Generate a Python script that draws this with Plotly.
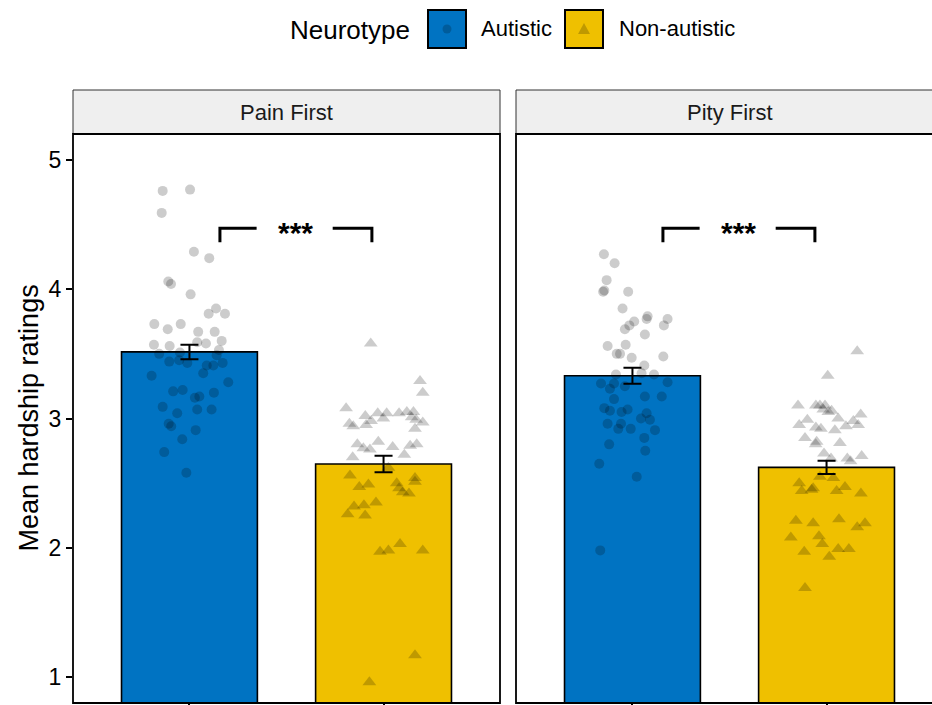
import plotly.graph_objects as go

# ---------------- data ----------------
panels = ["Pain First", "Pity First"]
groups = ["Autistic", "Non-autistic"]
bar_colors = ["#0073C2", "#EFC000"]

means = {"Pain First": [3.515, 2.648], "Pity First": [3.331, 2.622]}
ses = {"Pain First": [0.056, 0.063], "Pity First": [0.062, 0.052]}

pain_aut_y = [4.76, 4.77, 4.59, 4.29, 4.24, 4.06, 4.04, 3.96, 3.85, 3.81, 3.81, 3.73, 3.69, 3.73, 3.67,
              3.67, 3.57, 3.56, 3.58, 3.60, 3.59, 3.50, 3.51, 3.53, 3.44, 3.45, 3.43, 3.41, 3.41, 3.43,
              3.49, 3.33, 3.35, 3.28, 3.21, 3.22, 3.16, 3.17, 3.20, 3.09, 3.04, 3.07, 3.07, 2.96, 2.94,
              2.91, 2.84, 2.74, 2.58]
pain_aut_jit = [-0.138, 0.003, -0.143, 0.023, 0.102, -0.109, -0.095, 0.006, 0.137, 0.099, 0.183, -0.181,
                -0.112, -0.045, 0.045, 0.130, -0.183, -0.102, 0.085, 0.166, 0.040, -0.156, -0.049, 0.152,
                -0.104, -0.053, -0.011, 0.089, 0.123, 0.171, 0.140, -0.195, 0.071, 0.200, -0.084, -0.035,
                0.028, 0.051, 0.126, -0.138, -0.063, 0.040, 0.114, -0.107, -0.094, 0.032, -0.037, -0.130,
                -0.016]

pain_non_y = [3.58, 3.29, 3.20, 3.08, 2.96, 2.94, 3.02, 2.95, 2.98, 3.04, 3.00, 3.04, 3.04, 3.05, 3.05,
              3.01, 2.99, 2.97, 2.92, 2.80, 2.77, 2.76, 2.82, 2.78, 2.79, 2.80, 2.72, 2.70, 2.62, 2.56,
              2.47, 2.49, 2.50, 2.46, 2.54, 2.51, 2.42, 2.43, 2.35, 2.32, 2.33, 2.26, 2.25, 1.97, 1.98,
              2.03, 1.98, 1.17, 0.96]
pain_non_jit = [-0.066, 0.188, 0.202, -0.193, -0.176, -0.156, -0.094, -0.090, -0.064, -0.030, -0.001,
                0.016, 0.080, 0.120, 0.154, 0.145, 0.168, 0.202, 0.162, -0.135, -0.104, -0.070, -0.027,
                0.047, 0.137, 0.171, 0.107, -0.159, 0.025, -0.173, -0.125, -0.078, 0.068, 0.080, 0.162,
                0.162, 0.131, 0.099, -0.039, -0.152, -0.101, -0.185, -0.095, -0.018, 0.025, 0.085, 0.202,
                0.162, -0.073]

pity_aut_y = [4.27, 4.20, 4.07, 3.98, 3.99, 3.98, 3.85, 3.79, 3.77, 3.77, 3.75, 3.72, 3.69, 3.72, 3.65,
              3.56, 3.57, 3.50, 3.50, 3.47, 3.48, 3.41, 3.34, 3.35, 3.34, 3.27, 3.27, 3.28, 3.23, 3.25,
              3.17, 3.17, 3.15, 3.08, 3.06, 3.05, 3.07, 3.04, 3.00, 2.99, 2.96, 2.96, 2.92, 2.92, 2.91,
              2.85, 2.80, 2.75, 2.65, 2.55, 1.98]
pity_aut_jit = [-0.147, -0.092, -0.133, -0.151, -0.145, -0.022, -0.051, 0.078, 0.073, 0.181, 0.009, -0.016,
                -0.039, 0.162, 0.064, -0.128, -0.035, -0.081, -0.064, -0.004, 0.159, 0.061, -0.085, 0.047,
                0.111, -0.162, -0.095, 0.181, -0.116, -0.039, 0.064, 0.151, -0.095, -0.145, -0.116,
                -0.056, -0.025, 0.073, 0.044, 0.090, -0.128, -0.059, -0.073, -0.009, 0.116, 0.061, -0.120,
                0.066, -0.171, 0.022, -0.166]

pity_non_y = [3.52, 3.33, 3.10, 3.10, 3.10, 3.10, 3.07, 3.06, 3.05, 3.03, 3.00, 2.99, 2.98, 2.95, 2.93,
              2.92, 2.94, 2.95, 2.91, 2.85, 2.82, 2.80, 2.81, 2.73, 2.69, 2.69, 2.67, 2.71, 2.55, 2.54,
              2.50, 2.45, 2.44, 2.44, 2.47, 2.42, 2.46, 2.21, 2.19, 2.22, 2.16, 2.19, 2.08, 2.09, 2.03,
              1.97, 1.99, 1.99, 1.93, 1.69]
pity_non_jit = [0.158, 0.006, -0.147, -0.055, -0.034, -0.008, -0.017, 0.026, 0.009, 0.176, 0.060, -0.099,
                0.138, -0.141, -0.055, -0.029, 0.100, 0.163, 0.043, -0.111, -0.051, -0.056, 0.069, -0.013,
                0.023, 0.107, 0.124, 0.181, -0.034, 0.035, -0.141, -0.077, -0.128, 0.052, 0.095, 0.177,
                -0.069, -0.158, -0.069, 0.064, 0.158, 0.198, -0.184, -0.039, -0.022, -0.115, 0.060, 0.115,
                0.014, -0.111]

points = {
    ("Pain First", 0): (pain_aut_jit, pain_aut_y),
    ("Pain First", 1): (pain_non_jit, pain_non_y),
    ("Pity First", 0): (pity_aut_jit, pity_aut_y),
    ("Pity First", 1): (pity_non_jit, pity_non_y),
}

# significance bracket (data units)
sig_label = "***"
bracket_x = [1.157, 1.94]
bracket_gap = [1.346, 1.738]
bracket_y = 4.472
bracket_drop = 0.11
y_ticks = [1, 2, 3, 4, 5]

# ---------------- layout helpers ----------------
W, H = 932, 705
def px(x):
    return x / W
def py(y):
    return 1 - y / H

FONT = "Liberation Sans, Arial, Helvetica, sans-serif"
panel_left = [73, 516]
panel_w = 427
panel_top, panel_bot = 134, 703
unit = panel_w / 2.2

fig = go.Figure()

axes = [("x", "y"), ("x2", "y2")]
for pi, panel in enumerate(panels):
    xa, ya = axes[pi]
    for gi in range(2):
        fig.add_trace(go.Bar(
            x=[gi + 1], y=[means[panel][gi]], width=0.7,
            marker=dict(color=bar_colors[gi], line=dict(color="black", width=1.6)),
            error_y=dict(type="data", array=[ses[panel][gi]], color="black", thickness=2, width=9),
            xaxis=xa, yaxis=ya, showlegend=False, hoverinfo="skip"))
    for gi in range(2):
        jit, vals = points[(panel, gi)]
        fig.add_trace(go.Scatter(
            x=[gi + 1 + j for j in jit], y=vals, mode="markers",
            marker=dict(symbol="circle" if gi == 0 else "triangle-up",
                        size=10 if gi == 0 else 12,
                        color="rgba(0,0,0,0.2)", line=dict(width=0)),
            xaxis=xa, yaxis=ya, showlegend=False, hoverinfo="skip"))

shapes = []
annotations = []

# panels, strips
for pi, panel in enumerate(panels):
    x0 = panel_left[pi]
    x1 = x0 + panel_w
    # strip
    shapes.append(dict(type="rect", xref="paper", yref="paper", x0=px(x0), x1=px(x1),
                       y0=py(panel_top), y1=py(90), fillcolor="#EFEFEF",
                       line=dict(color="#333333", width=1), layer="below"))
    annotations.append(dict(text=panel, xref="paper", yref="paper", x=px(x0 + panel_w / 2), y=py(112),
                            showarrow=False, xanchor="center", yanchor="middle",
                            font=dict(family=FONT, size=22, color="#1a1a1a")))
    # panel border
    shapes.append(dict(type="rect", xref="paper", yref="paper", x0=px(x0), x1=px(x1),
                       y0=py(panel_bot), y1=py(panel_top), line=dict(color="black", width=1.8),
                       fillcolor="rgba(0,0,0,0)", layer="above"))
    # significance bracket
    xa = "x" if pi == 0 else "x2"
    yb = bracket_y - bracket_drop
    shapes.append(dict(type="path", xref=xa, yref="y",
                       path=f"M {bracket_x[0]},{yb} L {bracket_x[0]},{bracket_y} L {bracket_gap[0]},{bracket_y}",
                       line=dict(color="black", width=3)))
    shapes.append(dict(type="path", xref=xa, yref="y",
                       path=f"M {bracket_gap[1]},{bracket_y} L {bracket_x[1]},{bracket_y} L {bracket_x[1]},{yb}",
                       line=dict(color="black", width=3)))
    annotations.append(dict(text=f"<b>{sig_label}</b>", xref=xa, yref="y",
                            x=(bracket_x[0] + bracket_x[1]) / 2, y=bracket_y,
                            showarrow=False, xanchor="center", yanchor="middle", yshift=-4,
                            font=dict(family=FONT, size=30, color="black")))

# y title
annotations.append(dict(text="Mean hardship ratings", xref="paper", yref="paper",
                        x=px(28), y=py((panel_top + panel_bot) / 2), textangle=-90,
                        showarrow=False, xanchor="center", yanchor="middle",
                        font=dict(family=FONT, size=27, color="black")))

# legend (manual)
annotations.append(dict(text="Neurotype", xref="paper", yref="paper", x=px(412), y=py(30),
                        showarrow=False, xanchor="right", yanchor="middle",
                        font=dict(family=FONT, size=26, color="black")))
leg_boxes = [428, 565]
leg_text_x = [479, 617]
for gi in range(2):
    bx = leg_boxes[gi]
    shapes.append(dict(type="rect", xref="paper", yref="paper", x0=px(bx), x1=px(bx + 38),
                       y0=py(48), y1=py(10), fillcolor=bar_colors[gi], line=dict(color="black", width=2)))
    cx, cy = bx + 19, 29
    if gi == 0:
        shapes.append(dict(type="circle", xref="paper", yref="paper", x0=px(cx - 4.5), x1=px(cx + 4.5),
                           y0=py(cy + 4.5), y1=py(cy - 4.5), fillcolor="rgba(0,0,0,0.2)", line=dict(width=0)))
    else:
        shapes.append(dict(type="path", xref="paper", yref="paper",
                           path=f"M {px(cx - 6)},{py(cy + 5)} L {px(cx + 6)},{py(cy + 5)} L {px(cx)},{py(cy - 6)} Z",
                           fillcolor="rgba(0,0,0,0.2)", line=dict(width=0)))
    annotations.append(dict(text=groups[gi], xref="paper", yref="paper", x=px(leg_text_x[gi]), y=py(29),
                            showarrow=False, xanchor="left", yanchor="middle",
                            font=dict(family=FONT, size=22, color="black")))

ydom = [py(panel_bot), py(panel_top)]
fig.update_layout(
    width=W, height=H, autosize=False,
    margin=dict(l=0, r=0, t=0, b=0),
    paper_bgcolor="white", plot_bgcolor="white",
    barmode="overlay", showlegend=False,
    font=dict(family=FONT, color="black"),
    shapes=shapes, annotations=annotations,
    xaxis=dict(domain=[px(panel_left[0]), px(panel_left[0] + panel_w)], range=[0.4, 2.6],
               tickvals=[1, 2], ticktext=["", ""], ticks="outside", ticklen=5, tickwidth=1.5,
               tickcolor="black", showgrid=False, zeroline=False, showline=False, automargin=False),
    xaxis2=dict(domain=[px(panel_left[1]), 1.0], range=[0.4, 0.4 + (W - panel_left[1]) / unit],
                tickvals=[1, 2], ticktext=["", ""], ticks="outside", ticklen=5, tickwidth=1.5,
                tickcolor="black", showgrid=False, zeroline=False, showline=False, automargin=False),
    yaxis=dict(domain=ydom, range=[0.8, 5.2], tickvals=y_ticks, ticks="outside", ticklen=6,
               tickwidth=1.5, tickcolor="black", showgrid=False, zeroline=False, showline=False,
               tickfont=dict(family=FONT, size=23, color="black"), automargin=False),
    yaxis2=dict(domain=ydom, range=[0.8, 5.2], anchor="x2", showticklabels=False, ticks="",
                showgrid=False, zeroline=False, showline=False, automargin=False),
)
fig.update_layout(xaxis2_anchor="y2", yaxis_anchor="x")

# remove the default page margin / scrollbars so the 932x705 figure fills the window exactly
fig.write_html(
    "out.html",
    config={"displayModeBar": False},
    post_script="document.documentElement.style.overflow='hidden';"
                "document.body.style.margin='0';document.body.style.overflow='hidden';",
)
